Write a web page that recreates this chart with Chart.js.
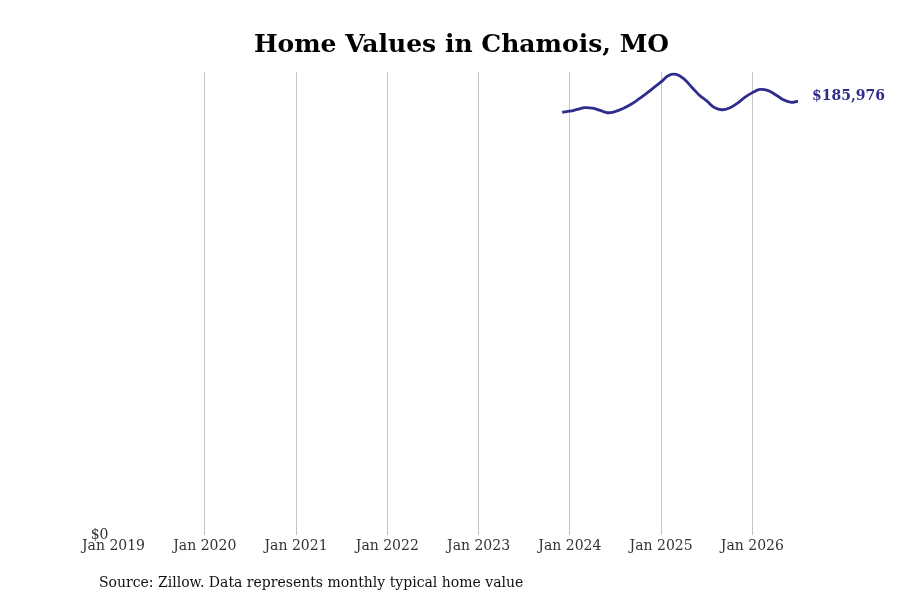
<!DOCTYPE html>
<html>
<head>
<meta charset="utf-8">
<script src="https://cdn.jsdelivr.net/npm/chart.js@4.4.1/dist/chart.umd.min.js"></script>
<style>
    html, body { margin: 0; padding: 0; background: #ffffff; }
    #wrap { position: relative; width: 900px; height: 600px; }
    #title {
        position: absolute; left: 0; top: 29px; width: 923px; text-align: center;
        font-family: 'DejaVu Serif', serif; font-size: 25px; font-weight: bold; color: #000;
    }
    #source {
        position: absolute; left: 99px; top: 574px;
        font-family: 'DejaVu Serif', serif; font-size: 14px; color: #111;
    }
</style>
</head>
<body>
<div id="wrap">
    <canvas id="home-chart" width="900" height="600"></canvas>
    <div id="title">Home Values in Chamois, MO</div>
    <div id="source">Source: Zillow. Data represents monthly typical home value</div>
</div>
<script>
// Monthly typical home values, Dec 2023 - Jul 2026
const months = [
    '2023-12',
    '2024-01', '2024-02', '2024-03', '2024-04', '2024-05', '2024-06',
    '2024-07', '2024-08', '2024-09', '2024-10', '2024-11', '2024-12',
    '2025-01', '2025-02', '2025-03', '2025-04', '2025-05', '2025-06',
    '2025-07', '2025-08', '2025-09', '2025-10', '2025-11', '2025-12',
    '2026-01', '2026-02', '2026-03', '2026-04', '2026-05', '2026-06',
    '2026-07'
];
const homeValues = [
    181254,
    181683, 182454, 183226, 182969, 182026, 181039,
    181597, 182883, 184598, 186742, 189101, 191674,
    194246, 197033, 197462, 195533, 192102, 188672,
    186099, 183312, 182326, 183098, 185027, 187600,
    189658, 191030, 190602, 188887, 186742, 185547,
    185976
];
const yearTicks = ['Jan 2019', 'Jan 2020', 'Jan 2021', 'Jan 2022', 'Jan 2023', 'Jan 2024', 'Jan 2025', 'Jan 2026'];

const START_YEAR = 2019;
const LINE_COLOR = '#2e2c8c';
const FONT = "'DejaVu Serif', serif";

// month index counted from Jan 2019
function monthIndex(str) {
    const [y, m] = str.split('-').map(Number);
    return (y - START_YEAR) * 12 + (m - 1);
}

const points = months.map((m, i) => ({ x: monthIndex(m), y: homeValues[i] }));

// Label next to the last value
const endLabelPlugin = {
    id: 'endLabel',
    afterDatasetsDraw(chart) {
        const last = points[points.length - 1];
        const px = chart.scales.x.getPixelForValue(last.x);
        const py = chart.scales.y.getPixelForValue(last.y);
        const ctx = chart.ctx;
        ctx.save();
        ctx.font = `bold 14px ${FONT}`;
        ctx.fillStyle = LINE_COLOR;
        ctx.textAlign = 'left';
        ctx.textBaseline = 'middle';
        ctx.fillText('$' + last.y.toLocaleString('en-US'), px + 14, py - 5);
        ctx.restore();
    }
};

new Chart(document.getElementById('home-chart').getContext('2d'), {
    type: 'line',
    data: {
        datasets: [{
            label: 'Typical home value',
            data: points,
            borderColor: LINE_COLOR,
            borderWidth: 2.8,
            pointRadius: 0,
            tension: 0.4,
            fill: false
        }]
    },
    options: {
        responsive: false,
        animation: false,
        layout: { padding: { left: 91, right: 102, top: 72, bottom: 42 } },
        plugins: {
            legend: { display: false },
            tooltip: { enabled: false },
            title: { display: false }
        },
        scales: {
            x: {
                type: 'linear',
                min: 0,
                max: 90,
                afterBuildTicks: (scale) => {
                    scale.ticks = yearTicks.map((t, i) => ({ value: i * 12 }));
                },
                ticks: {
                    color: '#333',
                    font: { family: FONT, size: 14 },
                    padding: 3,
                    maxRotation: 0,
                    autoSkip: false,
                    callback: (value) => yearTicks[value / 12]
                },
                grid: {
                    drawTicks: false,
                    color: (ctx) => ctx.tick && ctx.tick.value === 0 ? 'rgba(0,0,0,0)' : '#c4c4c4'
                },
                border: { display: false }
            },
            y: {
                min: 0,
                max: 198500,
                afterBuildTicks: (scale) => { scale.ticks = [{ value: 0 }]; },
                afterFit: (scale) => { scale.width = 22.5; },
                ticks: {
                    color: '#333',
                    font: { family: FONT, size: 14 },
                    padding: 5,
                    callback: (value) => '$' + value.toLocaleString('en-US')
                },
                grid: { display: false, drawTicks: false },
                border: { display: false }
            }
        }
    },
    plugins: [endLabelPlugin]
});
</script>
</body>
</html>
